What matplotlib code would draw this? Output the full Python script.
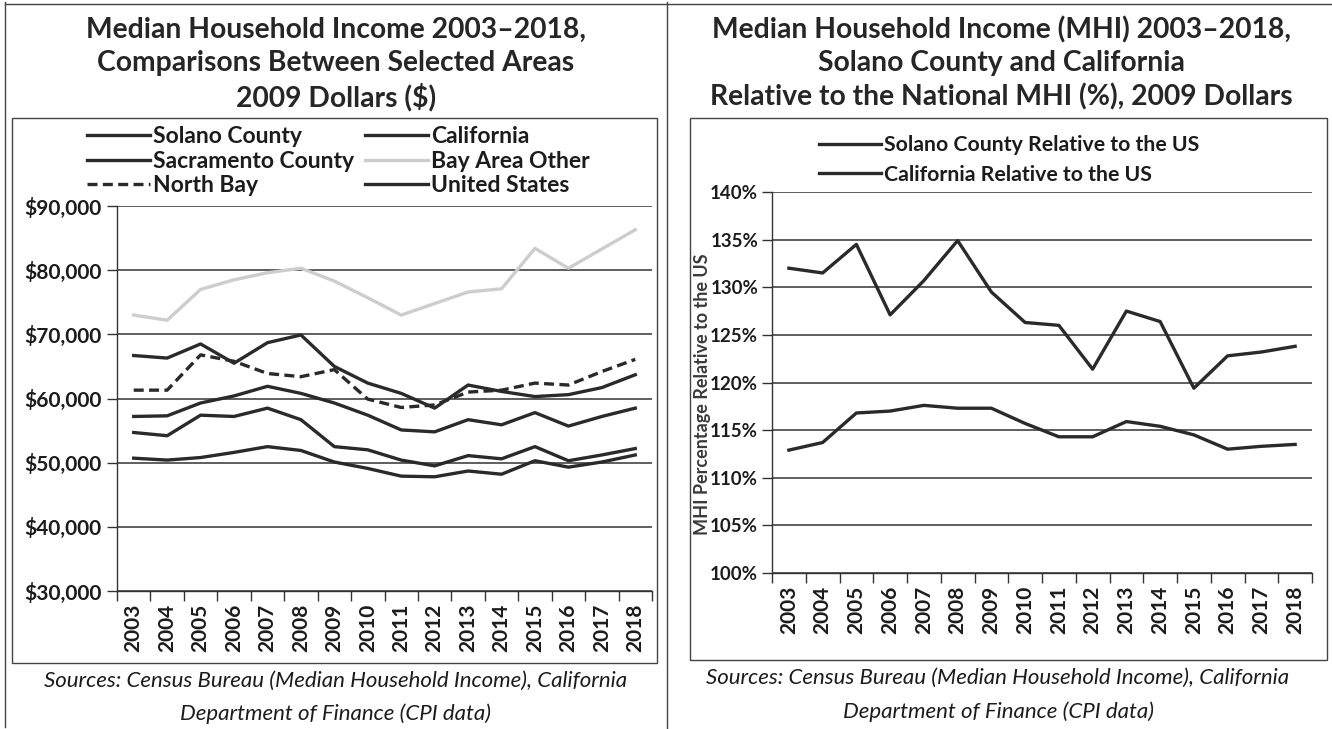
import matplotlib
matplotlib.use("Agg")
import matplotlib.pyplot as plt
from matplotlib.lines import Line2D
from matplotlib.patches import Rectangle
from matplotlib.ticker import FuncFormatter, FixedLocator

W, H = 1332, 729

years = list(range(2003, 2019))

# Left chart: median household income, 2009 dollars
solano = [66700, 66300, 68500, 65500, 68700, 69900, 65000, 62400, 60800, 58500, 62100, 61100, 60300, 60600, 61700, 63700]
california = [57200, 57300, 59300, 60400, 61900, 60800, 59300, 57400, 55100, 54800, 56700, 55900, 57800, 55700, 57200, 58500]
sacramento = [54700, 54200, 57400, 57200, 58500, 56700, 52500, 52000, 50400, 49500, 51100, 50600, 52500, 50300, 51200, 52200]
bay_area_other = [73000, 72200, 77000, 78500, 79600, 80300, 78300, 75700, 73000, 74800, 76600, 77100, 83400, 80300, 83300, 86300]
north_bay = [61300, 61300, 66800, 65800, 63900, 63400, 64500, 59900, 58600, 59000, 61000, 61300, 62400, 62100, 64200, 66100]
united_states = [50700, 50400, 50800, 51600, 52500, 51900, 50100, 49100, 47900, 47800, 48700, 48200, 50300, 49300, 50100, 51200]

# Right chart: MHI relative to the US (%)
solano_rel = [132.0, 131.5, 134.5, 127.1, 130.7, 134.9, 129.5, 126.3, 126.0, 121.4, 127.5, 126.4, 119.4, 122.8, 123.2, 123.8]
california_rel = [112.9, 113.7, 116.8, 117.0, 117.6, 117.3, 117.3, 115.7, 114.3, 114.3, 115.9, 115.4, 114.5, 113.0, 113.3, 113.5]

FONT = "Lato"
DARK = "#2a2a2a"
TXT = "#1c1c1c"
LW = 2.4


def fx(x):
    return x / W


def fy(y):
    return 1 - y / H


def rect(x0, y0, x1, y1):
    return [fx(x0), fy(y1), fx(x1) - fx(x0), fy(y0) - fy(y1)]


def style_axis(ax, n, ysize=15, ypad=4):
    ax.set_xlim(-0.5, n - 0.5)
    ax.set_xticks(range(n))
    ax.set_xticklabels([str(y) for y in years], rotation=90, fontsize=15,
                       fontweight="bold", family=FONT, color=TXT)
    ax.xaxis.set_minor_locator(FixedLocator([i - 0.5 for i in range(n + 1)]))
    ax.tick_params(axis="x", which="major", length=0, pad=9)
    ax.tick_params(axis="x", which="minor", length=7, width=1.0, color="#333333", direction="out")
    ax.tick_params(axis="y", length=7, width=1.0, color="#333333", direction="out", pad=ypad)
    for lab in ax.get_yticklabels():
        lab.set_fontweight("bold")
        lab.set_fontsize(ysize)
        lab.set_family(FONT)
        lab.set_color(TXT)
    ax.grid(axis="y", color="#333333", linewidth=1.1)
    ax.set_axisbelow(True)
    for side in ("top", "right"):
        ax.spines[side].set_visible(False)
    for side in ("left", "bottom"):
        ax.spines[side].set_color("#333333")
        ax.spines[side].set_linewidth(1.0)


fig = plt.figure(figsize=(W / 100, H / 100), dpi=100, facecolor="white")

# panel frames
frame_kw = dict(transform=fig.transFigure, fill=False, edgecolor="#444444", linewidth=1.0)
fig.add_artist(Line2D([fx(5), fx(5)], [fy(2), fy(727)], transform=fig.transFigure, color="#444444", lw=1.0))
fig.add_artist(Line2D([fx(667), fx(667)], [fy(2), fy(729)], transform=fig.transFigure, color="#444444", lw=1.0))
fig.add_artist(Line2D([fx(5), fx(1332)], [fy(4), fy(4)], transform=fig.transFigure, color="#444444", lw=1.0))
fig.add_artist(Rectangle((fx(12), fy(663)), fx(657) - fx(12), fy(118) - fy(663), **frame_kw))
fig.add_artist(Rectangle((fx(690), fy(660)), fx(1327) - fx(690), fy(118) - fy(660), **frame_kw))

# ---- left chart ----
ax1 = fig.add_axes(rect(117, 206, 652, 591))
x = list(range(len(years)))
ax1.plot(x, bay_area_other, color="#cdcdcd", lw=LW, label="Bay Area Other", zorder=2)
ax1.plot(x, solano, color=DARK, lw=LW, label="Solano County", zorder=3)
ax1.plot(x, california, color=DARK, lw=LW, label="California", zorder=3)
ax1.plot(x, sacramento, color=DARK, lw=LW, label="Sacramento County", zorder=3)
ax1.plot(x, north_bay, color=DARK, lw=LW, ls=(0, (3, 1.6)), label="North Bay", zorder=3)
ax1.plot(x, united_states, color=DARK, lw=LW, label="United States", zorder=3)
ax1.set_ylim(30000, 90000)
ax1.set_yticks(range(30000, 90001, 10000))
ax1.yaxis.set_major_formatter(FuncFormatter(lambda v, p: f"${v:,.0f}"))
style_axis(ax1, len(years))

h, l = ax1.get_legend_handles_labels()
order = ["Solano County", "Sacramento County", "North Bay", "California", "Bay Area Other", "United States"]
hmap = dict(zip(l, h))
fig.legend([hmap[k] for k in order], order, loc="upper left",
           bbox_to_anchor=(fx(87), fy(126)), ncol=2, frameon=False,
           prop=dict(family=FONT, weight="bold", size=16.5), labelcolor=TXT,
           handlelength=2.75, handletextpad=0.15, columnspacing=0.45,
           labelspacing=0.16, borderaxespad=0, borderpad=0)

for i, line in enumerate(["Median Household Income 2003\u20132018,",
                          "Comparisons Between Selected Areas",
                          "2009 Dollars ($)"]):
    fig.text(fx(336), fy(30 + 33.5 * i), line, ha="center", va="center",
             fontsize=20.3, fontweight="bold", family=FONT, color="#262626")

for i, line in enumerate(["Sources: Census Bureau (Median Household Income), California",
                          "Department of Finance (CPI data)"]):
    fig.text(fx(336), fy(681 + 33 * i), line, ha="center", va="center",
             fontsize=16, style="italic", family=FONT, color=TXT)

# ---- right chart ----
ax2 = fig.add_axes(rect(772, 192, 1312, 573))
ax2.plot(x, solano_rel, color=DARK, lw=LW, label="Solano County Relative to the US")
ax2.plot(x, california_rel, color=DARK, lw=LW, label="California Relative to the US")
ax2.set_ylim(100, 140)
ax2.set_yticks(range(100, 141, 5))
ax2.yaxis.set_major_formatter(FuncFormatter(lambda v, p: f"{v:.0f}%"))
style_axis(ax2, len(years), ysize=13.5, ypad=3)
ax2.set_ylabel("MHI Percentage Relative to the US", fontsize=13, fontweight="bold",
               family=FONT, color="#3a3a3a")
ax2.yaxis.set_label_coords((711 - 772) / 540, 0.47)

fig.legend(*ax2.get_legend_handles_labels(), loc="upper left",
           bbox_to_anchor=(fx(819), fy(135)), ncol=1, frameon=False,
           prop=dict(family=FONT, weight="bold", size=15.3), labelcolor=TXT,
           handlelength=2.9, handletextpad=0.15, labelspacing=0.45,
           borderaxespad=0, borderpad=0)

for i, line in enumerate(["Median Household Income (MHI) 2003\u20132018,",
                          "Solano County and California",
                          "Relative to the National MHI (%), 2009 Dollars"]):
    fig.text(fx(1001), fy(30 + 33.5 * i), line, ha="center", va="center",
             fontsize=20.3, fontweight="bold", family=FONT, color="#262626")

for i, line in enumerate(["Sources: Census Bureau (Median Household Income), California",
                          "Department of Finance (CPI data)"]):
    fig.text(fx(998), fy(678 + 34 * i), line, ha="center", va="center",
             fontsize=16, style="italic", family=FONT, color=TXT)

fig.savefig("out.png", dpi=100, facecolor="white")
